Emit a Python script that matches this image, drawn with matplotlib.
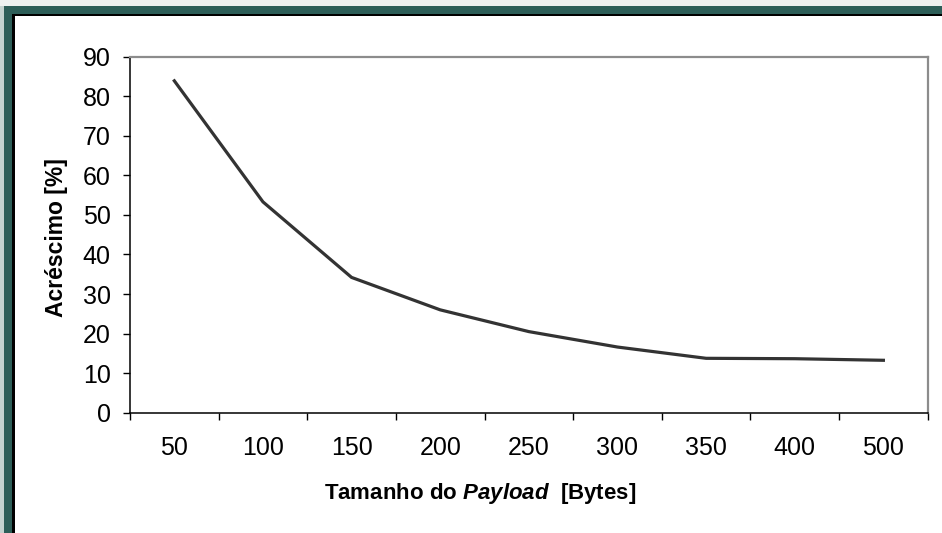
import matplotlib
matplotlib.use("Agg")
import matplotlib.pyplot as plt
import numpy as np
from matplotlib.patches import Rectangle

categories = ["50", "100", "150", "200", "250", "300", "350", "400", "500"]
values = [83.9, 53.3, 34.2, 26.0, 20.5, 16.6, 13.75, 13.65, 13.25]
yticks = [0, 10, 20, 30, 40, 50, 60, 70, 80, 90]

plt.rcParams['font.family'] = ['Liberation Sans', 'DejaVu Sans']
plt.rcParams['mathtext.fontset'] = 'custom'
plt.rcParams['mathtext.it'] = 'Liberation Sans:italic:bold'
plt.rcParams['mathtext.rm'] = 'Liberation Sans:bold'

W, H = 942, 533
fig = plt.figure(figsize=(W / 100, H / 100), dpi=100)

def px_rect(x0, y0, x1, y1, color):
    fig.add_artist(Rectangle((x0 / W, 1 - y1 / H), (x1 - x0) / W, (y1 - y0) / H,
                             transform=fig.transFigure, facecolor=color,
                             edgecolor='none', zorder=0))

teal = '#2D5E58'
px_rect(0, 0, 4, H, '#c4d2cf')
px_rect(0, 0, W, 6, '#eef1f0')
px_rect(4, 6, W, 14, teal)
px_rect(4, 6, 12, H, teal)
px_rect(12, 14, W, 16, 'black')
px_rect(12, 14, 15, H, 'black')

left, right, top, bottom = 130, 927.7, 56.7, 412.7
ax = fig.add_axes([left / W, 1 - bottom / H, (right - left) / W, (bottom - top) / H])

x = np.arange(len(categories)) + 0.5
ax.plot(x, values, color='#333333', lw=2.3, solid_joinstyle='miter', zorder=3)

ax.set_xlim(0, len(categories))
ax.set_ylim(0, 90)
ax.set_yticks(yticks)
ax.set_yticklabels([str(v) for v in yticks])
ax.set_xticks(np.arange(len(categories) + 1))
ax.set_xticklabels([''] * (len(categories) + 1))
ax.set_xticks(x, minor=True)
ax.set_xticklabels(categories, minor=True)

ax.tick_params(axis='y', direction='out', length=5, width=1, color='black',
               labelsize=18, pad=9)
ax.tick_params(axis='x', which='major', direction='out', length=5, width=1, color='black')
ax.tick_params(axis='x', which='minor', length=0, labelsize=18, pad=17)

for s in ['left', 'bottom']:
    ax.spines[s].set_color('black')
    ax.spines[s].set_linewidth(1.1)
for s in ['top', 'right']:
    ax.spines[s].set_color('#8c8c8c')
    ax.spines[s].set_linewidth(1.6)

fig.text(56 / W, 1 - 237.5 / H, 'Acréscimo [%]', rotation=90, ha='center', va='center',
         fontsize=16.5, fontweight='bold')
fig.text(480 / W, 1 - 494 / H, r'Tamanho do $\mathit{Payload}$  [Bytes]', ha='center',
         va='center', fontsize=16, fontweight='bold')

fig.savefig('out.png', dpi=100)
